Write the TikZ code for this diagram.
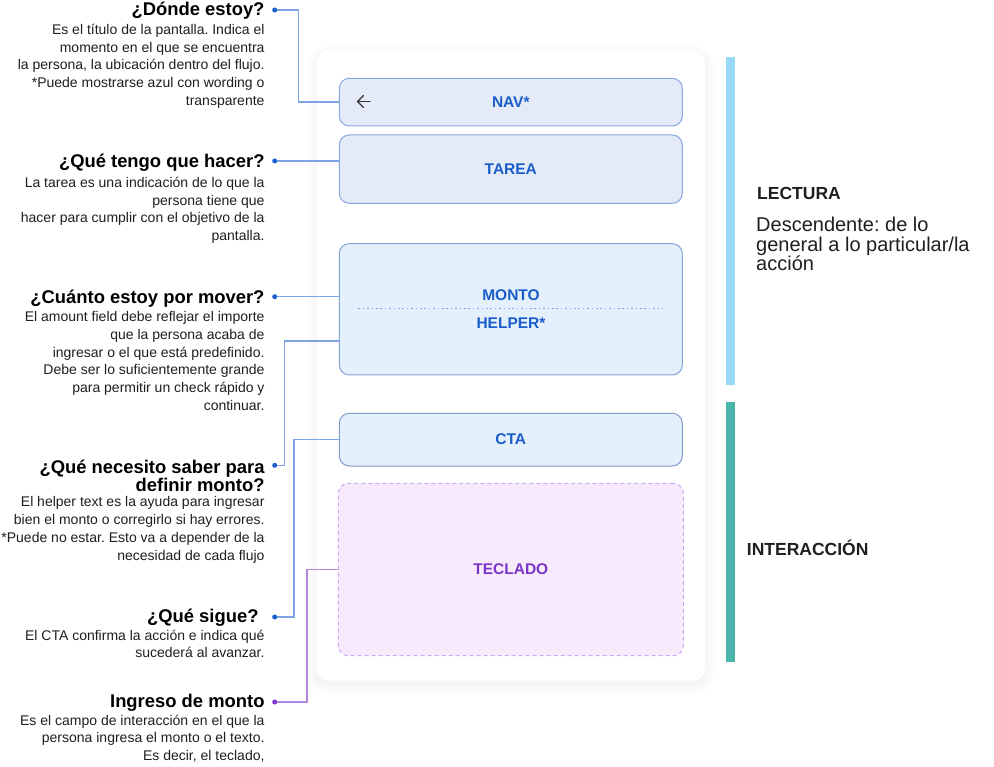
\documentclass[tikz,border=0pt]{standalone}
\usepackage{fontspec}
\setmainfont{Liberation Sans}
\usetikzlibrary{calc}
\frenchspacing
\definecolor{navfill}{HTML}{E4EAF7}
\definecolor{navdraw}{HTML}{88A8E4}
\definecolor{montofill}{HTML}{E5F0FD}
\definecolor{montodraw}{HTML}{86A3D8}
\definecolor{ctadraw}{HTML}{7F9ACB}
\definecolor{boxtext}{HTML}{1A5DC9}
\definecolor{tecfill}{HTML}{F7EAFD}
\definecolor{tecdraw}{HTML}{CFA6F4}
\definecolor{tectext}{HTML}{7B34C8}
\definecolor{connblue}{HTML}{7EA3E2}
\definecolor{dotblue}{HTML}{1E5FD0}
\definecolor{connpurple}{HTML}{B286E3}
\definecolor{dotpurple}{HTML}{7A36CF}
\definecolor{barblue}{HTML}{97D9F6}
\definecolor{barteal}{HTML}{4DB6AC}
\definecolor{txt}{HTML}{1F1F1F}
\definecolor{icon}{HTML}{333333}
\begin{document}
\begin{tikzpicture}[x=1pt,y=-1pt,
  head/.style={font=\fontsize{18.4}{15.7}\selectfont\bfseries, inner sep=0pt, anchor=base east, text=black},
  body/.style={font=\fontsize{14}{17.7}\selectfont, align=right, inner sep=0pt, anchor=north east, text=txt},
  uibox/.style={draw, rounded corners=10pt, line width=1pt, inner sep=0pt, minimum width=343pt,
     font=\fontsize{15.5}{18}\selectfont\bfseries, text=boxtext},
  navbox/.style={uibox, fill=navfill, draw=navdraw},
  montobox/.style={uibox, fill=montofill, draw=montodraw},
  ctabox/.style={uibox, fill=montofill, draw=ctadraw},
  tecbox/.style={uibox, fill=tecfill, draw=tecdraw, dash pattern=on 4pt off 3pt, minimum width=345pt, text=tectext},
  lbl/.style={inner sep=0pt, font=\fontsize{15.5}{18}\selectfont\bfseries, text=boxtext},
  conn/.style={draw=connblue, line width=1.5pt},
  connp/.style={draw=connpurple, line width=1.5pt},
  dotb/.style={circle, fill=dotblue, inner sep=0pt, minimum size=5pt},
  dotp/.style={circle, fill=dotpurple, inner sep=0pt, minimum size=5pt},
  iconline/.style={draw=icon, line width=1.4pt, line cap=round, line join=round},
  sidehead/.style={font=\fontsize{17.5}{20}\selectfont\bfseries, inner sep=0pt, anchor=base west, text=txt},
  sidebody/.style={font=\fontsize{20}{19.5}\selectfont, align=left, inner sep=0pt, anchor=north west, text=txt}
]
\fill[white] (0,0) rectangle (994,767);
\useasboundingbox (0,0) rectangle (994,767);

% card shadow and card
\foreach \i in {1,...,10}{
  \pgfmathsetmacro\rr{12+\i}
  \fill[black, opacity=0.0045, rounded corners=\rr pt] (316.7-\i,50.7-\i+4) rectangle (705+\i,680.7+\i+4);
}
\node[fill=white, rounded corners=12pt, minimum width=388.3pt, minimum height=630pt, inner sep=0pt] (card) at (510.85,365.7) {};

% side bars
\fill[barblue] (726,57) rectangle (735,385.5);
\fill[barteal] (726,402.5) rectangle (735,661.5);

% UI boxes
\node[navbox, minimum height=47.7pt] (nav) at (510.8,102.15) {NAV*};
\node[navbox, minimum height=68.3pt] (tarea) at (510.8,169.15) {TAREA};
\node[montobox, minimum height=131.3pt] (monto) at (510.8,309.35) {};
\node[ctabox, minimum height=52.7pt] (cta) at (510.8,439.65) {CTA};
\node[tecbox, minimum height=172.4pt] (tec) at (510.8,569.5) {TECLADO};

\node[lbl] (montolbl) at (511,295) {MONTO};
\node[lbl] (helperlbl) at (511,323.3) {HELPER*};
\draw[draw=connblue, line width=1.6pt, dash pattern=on 1.6pt off 2.8pt] (358.3,308.7) -- (663.3,308.7);

% back arrow icon
\draw[iconline] (370,101.5) -- (357.5,101.5);
\draw[iconline] (363.5,95.5) -- (357.5,101.5) -- (363.5,107.5);

% dots
\node[dotb] (d1) at (274.7,10) {};
\node[dotb] (d2) at (274.7,161) {};
\node[dotb] (d3) at (274.7,296.7) {};
\node[dotb] (d4) at (274.7,465.3) {};
\node[dotb] (d5) at (274.7,617) {};
\node[dotp] (d6) at (274.7,702) {};

% connectors
\draw[conn] (d1.east) -- ++(21,0) |- (nav.west);
\draw[conn] (d2.east) -- (d2 -| tarea.west);
\draw[conn] (d3.east) -- (d3 -| monto.west);
\draw[conn] (d4.east) -- ++(7.1,0) |- ($(monto.west)+(0,31.7)$);
\draw[conn] (d5.east) -- ++(16.8,0) |- (cta.west);
\draw[connp] (d6.east) -- ++(29.5,0) |- (tec.west);

% annotations
\node[head] (h1) at (264.7,16) {¿Dónde estoy?};
\node[body] (b1) at (264.7,34.3-13) {\rule{0pt}{13pt}Es el título de la pantalla. Indica el\\momento en el que se encuentra\hspace*{4pt}\\la persona, la ubicación dentro del flujo.\hspace*{4pt}\\*Puede mostrarse azul con wording o\\transparente};

\node[head] (h2) at (264.7,168) {¿Qué tengo que hacer?};
\node[body] (b2) at (264.7,187.3-13) {\rule{0pt}{13pt}La tarea es una indicación de lo que la\\persona tiene que\\hacer para cumplir con el objetivo de la\\pantalla.};

\node[head] (h3) at (264.7,303.5) {¿Cuánto estoy por mover?};
\node[body] (b3) at (264.7,321.7-13) {\rule{0pt}{13pt}El amount field debe reflejar el importe\\que la persona acaba de\\ingresar o el que está predefinido.\hspace*{4pt}\\Debe ser lo suficientemente grande\\para permitir un check rápido y\\continuar.};

\node[head, align=right, anchor=north east] (h4) at (264.7,473.3-15) {\rule{0pt}{15pt}¿Qué necesito saber para\\definir monto?};
\node[body] (b4) at (264.7,506.7-13) {\rule{0pt}{13pt}El helper text es la ayuda para ingresar\\bien el monto o corregirlo si hay errores.\\*Puede no estar. Esto va a depender de la\\necesidad de cada flujo};

\node[head] (h5) at (264.7,622.5) {¿Qué sigue?\hspace*{6pt}};
\node[body] (b5) at (264.7,640-13) {\rule{0pt}{13pt}El CTA confirma la acción e indica qué\\sucederá al avanzar.};

\node[head] (h6) at (264.7,707.8) {Ingreso de monto};
\node[body] (b6) at (264.7,725-13) {\rule{0pt}{13pt}Es el campo de interacción en el que la\\persona ingresa el monto o el texto.\\Es decir, el teclado,};

% side texts
\node[sidehead] (lectura) at (757,199.3) {LECTURA};
\node[sidebody] (desc) at (756,231.7-16) {\rule{0pt}{16pt}Descendente: de lo\\general a lo particular/la\\acción};
\node[sidehead] (inter) at (746.7,555) {INTERACCIÓN};
\end{tikzpicture}
\end{document}
